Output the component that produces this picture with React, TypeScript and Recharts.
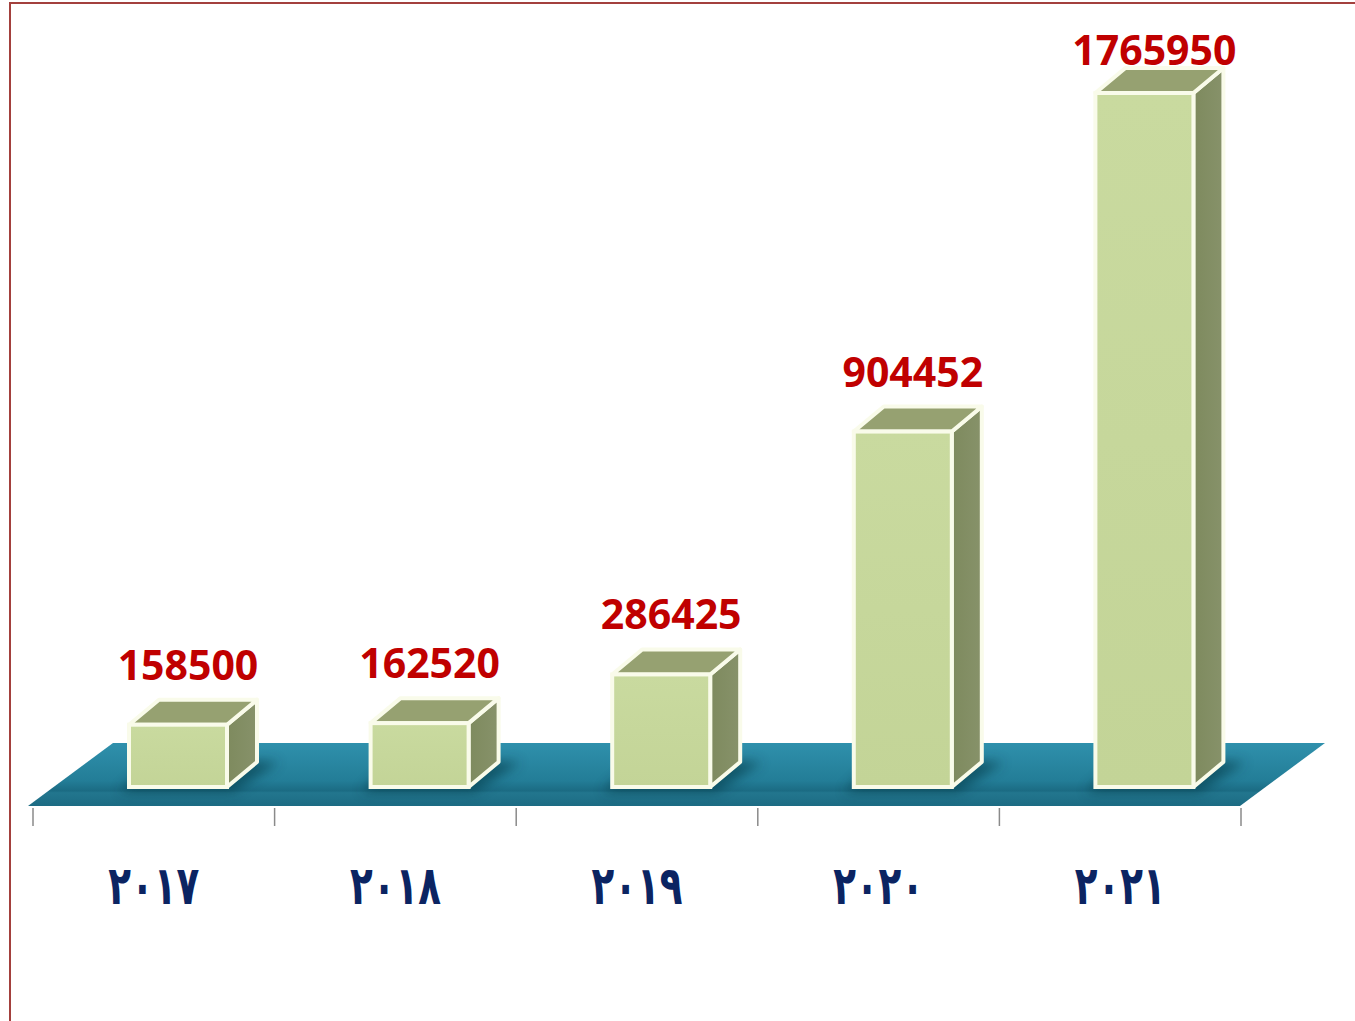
import React from 'react';
import { BarChart, Bar, XAxis, YAxis, LabelList, ReferenceArea } from 'recharts';

const years = ['٢٠١٧', '٢٠١٨', '٢٠١٩', '٢٠٢٠', '٢٠٢١'];
const values = [158500, 162520, 286425, 904452, 1765950];

const data = years.map((year, i) => ({ year, value: values[i] }));

const W = 1355;
const H = 1021;
const MARGIN = { top: 93, right: 114, bottom: 174, left: 33 };
const AXIS_H = 60;
const PLOT_W = W - MARGIN.left - MARGIN.right;
const BASE_Y = H - MARGIN.bottom - AXIS_H;
const BAND = PLOT_W / years.length;

// 3d look
const SHIFT = 24; // front face sits a bit right of the band centre
const DX = 30;
const DY = -25;
const EDGE = '#f9fbea';

function Floor(props: any) {
  const { x, y, width } = props;
  const L = x - 5;
  const R = x + width - 1;
  const fy = y + 19;
  const by = fy - 63;
  const pts = `${L},${fy} ${R},${fy} ${R + 85},${by} ${L + 85},${by}`;
  return (
    <g>
      <defs>
        <linearGradient id="floorGrad" x1="0" y1="0" x2="0" y2="1">
          <stop offset="0%" stopColor="#2f90ac" />
          <stop offset="60%" stopColor="#237d97" />
          <stop offset="76%" stopColor="#1b6b83" />
          <stop offset="79%" stopColor="#22768e" />
          <stop offset="100%" stopColor="#1c6b83" />
        </linearGradient>
        <linearGradient id="frontGrad" x1="0" y1="0" x2="0" y2="1">
          <stop offset="0%" stopColor="#c9da9f" />
          <stop offset="100%" stopColor="#c3d497" />
        </linearGradient>
        <linearGradient id="sideGrad" x1="0" y1="0" x2="1" y2="0">
          <stop offset="0%" stopColor="#7e8a5e" />
          <stop offset="100%" stopColor="#87926a" />
        </linearGradient>
        <filter id="soft" x="-50%" y="-50%" width="200%" height="200%">
          <feGaussianBlur stdDeviation="6" />
        </filter>
      </defs>
      <polygon points={pts} fill="url(#floorGrad)" />
    </g>
  );
}

function Box(props: any) {
  const { x, y, width, height } = props;
  if (!height) return null;
  const fx = x + SHIFT;
  const r = fx + width;
  const b = y + height;
  const top = `${fx},${y} ${fx + DX},${y + DY} ${r + DX},${y + DY} ${r},${y}`;
  const side = `${r},${y} ${r + DX},${y + DY} ${r + DX},${b + DY} ${r},${b}`;
  const shadow = `${fx - 10},${b + 5} ${r + 6},${b + 5} ${r + DX + 22},${b + DY} ${fx + DX - 4},${b + DY - 4}`;
  return (
    <g>
      <polygon points={shadow} fill="#06303e" opacity={0.55} filter="url(#soft)" />
      <polygon points={side} fill="url(#sideGrad)" stroke={EDGE} strokeWidth={4} strokeLinejoin="round" />
      <polygon points={top} fill="#96a171" stroke={EDGE} strokeWidth={4} strokeLinejoin="round" />
      <rect x={fx} y={y} width={width} height={height} fill="url(#frontGrad)" stroke={EDGE} strokeWidth={4} />
    </g>
  );
}

function ValueLabel(props: any) {
  const vb = props.viewBox || props;
  const { x, y, width } = vb;
  const ty = Math.max(y - 45, 65);
  return (
    <text
      x={x + width / 2 + 34}
      y={ty}
      textAnchor="middle"
      fill="#c00000"
      fontFamily="'Open Sans', sans-serif"
      fontWeight={700}
      fontSize={41}
    >
      {props.value}
    </text>
  );
}

function YearTick(props: any) {
  const { x, index, payload } = props;
  const left = x - BAND / 2;
  const last = index === years.length - 1;
  return (
    <g>
      <line x1={left} x2={left} y1={BASE_Y + 21} y2={BASE_Y + 39} stroke="#8a8a8a" strokeWidth={1.5} />
      {last && (
        <line x1={x + BAND / 2} x2={x + BAND / 2} y1={BASE_Y + 21} y2={BASE_Y + 39} stroke="#8a8a8a" strokeWidth={1.5} />
      )}
      <g transform={`translate(${x},${BASE_Y + 117}) scale(0.81,1.16)`}>
        <text
          x={0}
          y={0}
          textAnchor="middle"
          fill="#0b2462"
          fontFamily="'DejaVu Sans', sans-serif"
          fontWeight={700}
          fontSize={46}
        >
          {payload.value}
        </text>
      </g>
    </g>
  );
}

export default function App() {
  return (
    <div style={{ position: 'absolute', left: 0, top: 0, width: W, height: H, overflow: 'hidden', background: '#fff' }}>
      <div
        style={{
          position: 'absolute',
          left: 9,
          top: 2,
          width: W,
          height: H,
          borderLeft: '2px solid #a3403d',
          borderTop: '2px solid #a3403d',
        }}
      />
      <BarChart width={W} height={H} data={data} margin={MARGIN}>
        <XAxis
          dataKey="year"
          height={AXIS_H}
          axisLine={false}
          tickLine={false}
          tickSize={0}
          tickMargin={0}
          interval={0}
          tick={<YearTick />}
        />
        <YAxis hide domain={[0, 'dataMax']} />
        <ReferenceArea y1={0} y2={0} shape={<Floor />} ifOverflow="visible" />
        <Bar dataKey="value" barSize={98} shape={<Box />} isAnimationActive={false}>
          <LabelList dataKey="value" content={<ValueLabel />} />
        </Bar>
      </BarChart>
    </div>
  );
}
